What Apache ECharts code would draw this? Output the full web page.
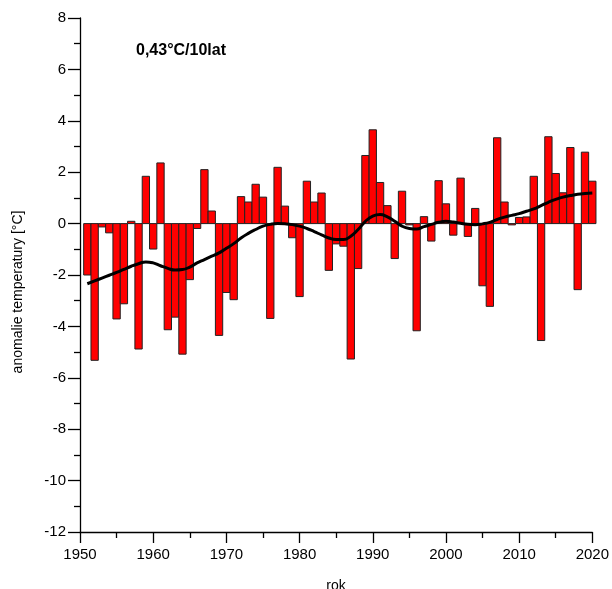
<!DOCTYPE html>
<html>
<head>
<meta charset="utf-8">
<script src="https://cdn.jsdelivr.net/npm/echarts@6/dist/echarts.min.js"></script>
<style>
  html, body { margin: 0; padding: 0; background: #fff; }
  #chart { width: 612px; height: 589px; }
</style>
</head>
<body>
<div id="chart"></div>
<script>
// Years of observation
const years = [];
for (let y = 1951; y <= 2020; y++) years.push(y);

// Annual temperature anomaly [°C]
const anomalies = [
  -2.00, -5.32, -0.13, -0.36, -3.71, -3.12, 0.09, -4.88, 1.84, -0.99,
   2.36, -4.13, -3.64, -5.08, -2.18, -0.19, 2.10, 0.49, -4.35, -2.68,
  -2.96, 1.05, 0.84, 1.53, 1.03, -3.69, 2.19, 0.68, -0.55, -2.84,
   1.65, 0.84, 1.19, -1.82, -0.79, -0.88, -5.27, -1.75, 2.65, 3.65,
   1.60, 0.70, -1.36, 1.26, -0.05, -4.17, 0.27, -0.68, 1.67, 0.77,
  -0.45, 1.77, -0.50, 0.59, -2.42, -3.22, 3.34, 0.84, -0.05, 0.24,
   0.26, 1.84, -4.55, 3.38, 1.95, 1.20, 2.96, -2.57, 2.78, 1.65
];

// Smoothed course of the anomaly
const smoothed = [
  -2.34, -2.23, -2.12, -2.01, -1.90, -1.78, -1.66, -1.56, -1.49, -1.53,
  -1.64, -1.74, -1.81, -1.79, -1.69, -1.53, -1.40, -1.27, -1.14, -0.96,
  -0.78, -0.56, -0.38, -0.23, -0.10, -0.03, 0.00, -0.01, -0.04, -0.10,
  -0.19, -0.31, -0.44, -0.56, -0.62, -0.62, -0.49, -0.23, 0.09, 0.29,
   0.35, 0.26, 0.09, -0.10, -0.19, -0.21, -0.12, -0.03, 0.05, 0.09,
   0.06, 0.01, -0.03, -0.04, -0.01, 0.05, 0.16, 0.25, 0.32, 0.39,
   0.48, 0.57, 0.70, 0.83, 0.94, 1.03, 1.09, 1.14, 1.17, 1.19
];

const trendLabel = '0,43°C/10lat';
const xTitle = 'rok';
const yTitle = 'anomalie temperatury [°C]';

const FONT = 'Liberation Sans, Arial, sans-serif';
const chart = echarts.init(document.getElementById('chart'), null, { renderer: 'canvas' });

// Each annual bar spans one full year, centred on the year
function renderYearBar(params, api) {
  const year = api.value(0);
  const val = api.value(1);
  const p0 = api.coord([year - 0.5, 0]);
  const p1 = api.coord([year + 0.5, val]);
  const x = Math.min(p0[0], p1[0]);
  const y = Math.min(p0[1], p1[1]);
  return {
    type: 'rect',
    shape: { x: x, y: y, width: Math.abs(p1[0] - p0[0]), height: Math.abs(p1[1] - p0[1]) },
    style: { fill: '#ff0000', stroke: '#222', lineWidth: 1 }
  };
}

chart.setOption({
  animation: false,
  backgroundColor: '#fff',
  grid: { left: 80, right: 19, top: 18, bottom: 57, containLabel: false },
  xAxis: {
    type: 'value',
    min: 1950, max: 2020, interval: 10,
    axisLine: { show: true, onZero: false, lineStyle: { color: '#000', width: 1.3 } },
    axisTick: { show: true, inside: false, length: 11, lineStyle: { color: '#000', width: 1.3 } },
    minorTick: { show: true, splitNumber: 2, length: 6, lineStyle: { color: '#000', width: 1.3 } },
    splitLine: { show: false },
    axisLabel: { color: '#000', fontSize: 15, fontFamily: FONT, margin: 15, formatter: v => String(v) },
  },
  yAxis: {
    type: 'value',
    min: -12, max: 8, interval: 2,
    axisLine: { show: true, onZero: false, lineStyle: { color: '#000', width: 1.3 } },
    axisTick: { show: true, inside: false, length: 12, lineStyle: { color: '#000', width: 1.3 } },
    minorTick: { show: true, splitNumber: 2, length: 6, lineStyle: { color: '#000', width: 1.3 } },
    splitLine: { show: false },
    axisLabel: { color: '#000', fontSize: 15, fontFamily: FONT, margin: 14 },
  },
  graphic: [
    {
      type: 'text', left: 136, top: 43,
      style: { text: trendLabel, font: 'bold 16px ' + FONT, fill: '#000' }
    },
    {
      type: 'text', x: 336, y: 586,
      style: { text: xTitle, font: '14px ' + FONT, fill: '#000', align: 'center', verticalAlign: 'middle' }
    },
    {
      type: 'text', x: 18, y: 292, rotation: Math.PI / 2,
      style: { text: yTitle, font: '14px ' + FONT, fill: '#000', align: 'center', verticalAlign: 'middle' }
    }
  ],
  series: [
    {
      type: 'custom',
      renderItem: renderYearBar,
      data: years.map((y, i) => [y, anomalies[i]]),
      encode: { x: 0, y: 1 },
      clip: false,
      z: 2
    },
    {
      type: 'line',
      data: years.map((y, i) => [y, smoothed[i]]),
      smooth: true,
      showSymbol: false,
      lineStyle: { color: '#000', width: 3 },
      z: 3
    }
  ]
});
</script>
</body>
</html>
